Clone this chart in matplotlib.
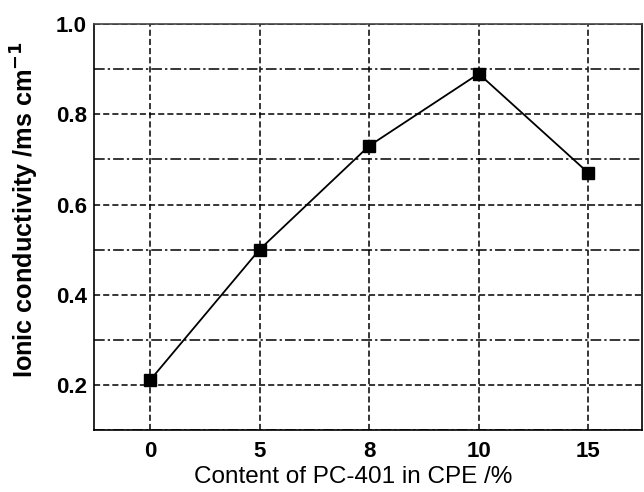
import matplotlib.pyplot as plt
import numpy as np
from matplotlib.ticker import MultipleLocator

plt.rcParams['font.family'] = ['Liberation Sans', 'DejaVu Sans']

content = ['0', '5', '8', '10', '15']
conductivity = [0.21, 0.50, 0.73, 0.89, 0.67]

fig = plt.figure(figsize=(6.44, 4.92), dpi=100)
ax = fig.add_axes([0.146, 0.126, 0.851, 0.825])

x = np.arange(len(content))
ax.plot(x, conductivity, color='black', lw=1.3, marker='s', ms=8, zorder=3)

ax.set_xlim(-0.51, 4.49)
ax.set_ylim(0.1, 1.0)
ax.set_xticks(x)
ax.set_xticklabels(content)
ax.yaxis.set_major_locator(MultipleLocator(0.2))
ax.yaxis.set_minor_locator(MultipleLocator(0.1))
ax.set_yticks([0.2, 0.4, 0.6, 0.8, 1.0])

ax.grid(True, which='major', axis='both', color='black', ls=(0, (4, 2)), lw=1.1)
ax.grid(True, which='minor', axis='y', color='black', ls=(0, (7, 2, 1.5, 2)), lw=1.1)

ax.tick_params(axis='both', which='both', length=0, labelsize=16)
ax.tick_params(axis='x', pad=8)
ax.tick_params(axis='y', pad=5)
for lbl in ax.get_xticklabels() + ax.get_yticklabels():
    lbl.set_fontweight('bold')

for s in ax.spines.values():
    s.set_color('black')
    s.set_linewidth(1.2)
ax.spines['top'].set_color('#444444')

ax.set_xlabel('Content of PC-401 in CPE /%', fontsize=17.5)
ax.xaxis.set_label_coords(0.472, -0.088)
ax.set_ylabel('Ionic conductivity /ms cm$^{\\mathbf{-1}}$', fontsize=18.2,
              fontweight='bold')
ax.yaxis.set_label_coords(-0.097, 0.542)

fig.savefig('out.png', dpi=100)
